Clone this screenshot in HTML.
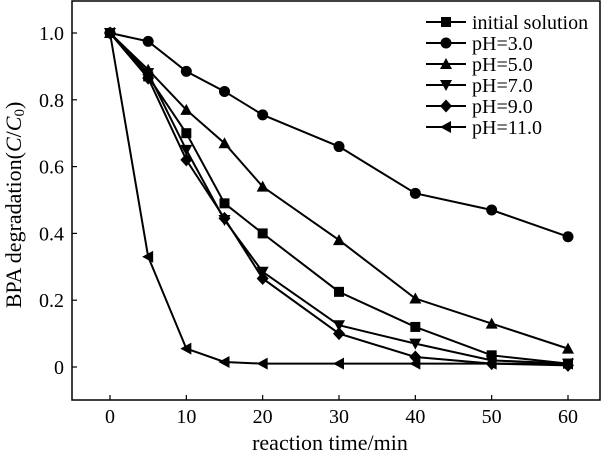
<!DOCTYPE html>
<html><head><meta charset="utf-8"><style>
body{margin:0;background:#fff}
svg text{font-family:"Liberation Serif",serif;fill:#000}
</style></head><body>
<svg width="608" height="458" viewBox="0 0 608 458">
<g id="plot"></g>
</svg>
<script>
const times=[0,5,10,15,20,30,40,50,60];
const initialVals=[1,0.87,0.70,0.49,0.40,0.225,0.12,0.035,0.01];
const ph3Vals=[1,0.975,0.885,0.825,0.755,0.66,0.52,0.47,0.39];
const ph5Vals=[1,0.89,0.77,0.67,0.54,0.38,0.205,0.13,0.055];
const ph7Vals=[1,0.88,0.65,0.44,0.285,0.125,0.07,0.02,0.01];
const ph9Vals=[1,0.865,0.62,0.445,0.265,0.10,0.03,0.01,0.005];
const ph11Vals=[1,0.33,0.055,0.015,0.01,0.01,0.01,0.01,0.01];
const seriesNames=["initial solution","pH=3.0","pH=5.0","pH=7.0","pH=9.0","pH=11.0"];
const xTicks=[0,10,20,30,40,50,60];
const yTicks=[0,0.2,0.4,0.6,0.8,1.0];
const yTickLabels=["0","0.2","0.4","0.6","0.8","1.0"];

const NS="http://www.w3.org/2000/svg";
const g=document.getElementById('plot');
const X=v=>110+(568-110)*v/60;
const Y=v=>367-(367-33)*v;
function mk(t,a,p){const e=document.createElementNS(NS,t);for(const k in a)e.setAttribute(k,a[k]);(p||g).appendChild(e);return e;}
const frame=mk('rect',{x:72,y:1,width:528,height:399,fill:'none',stroke:'#000','stroke-width':1.5});


xTicks.forEach(t=>{
  const l=mk('line',{x1:X(t),x2:X(t),y1:400,y2:395,stroke:'#000','stroke-width':1.2});
  
  
  const tx=mk('text',{x:X(t),y:423,'text-anchor':'middle','font-size':20});tx.textContent=t;
  
  
});
yTicks.forEach((t,i)=>{
  const l=mk('line',{x1:72,x2:77,y1:Y(t),y2:Y(t),stroke:'#000','stroke-width':1.2});
  
  
  const tx=mk('text',{x:64,y:Y(t)+7,'text-anchor':'end','font-size':20});tx.textContent=yTickLabels[i];
  
  
});
const xt=mk('text',{x:330,y:450,'text-anchor':'middle','font-size':22});xt.textContent='reaction time/min';


const yt=mk('text',{x:0,y:0,'text-anchor':'middle','font-size':22,transform:'translate(21,205) rotate(-90)'});
yt.innerHTML='BPA degradation(<tspan font-style="italic">C</tspan>/<tspan font-style="italic">C</tspan><tspan font-size="15" dy="3">0</tspan><tspan dy="-3">)</tspan>';



function marker(type,x,y,parent){
  const s=5;let e;
  if(type==='square')e=mk('rect',{x:x-s,y:y-s,width:2*s,height:2*s},parent);
  else if(type==='circle')e=mk('circle',{cx:x,cy:y,r:s+0.5},parent);
  else if(type==='up')e=mk('polygon',{points:`${x},${y-6} ${x-6},${y+5} ${x+6},${y+5}`},parent);
  else if(type==='down')e=mk('polygon',{points:`${x},${y+6} ${x-6},${y-5} ${x+6},${y-5}`},parent);
  else if(type==='diamond')e=mk('polygon',{points:`${x},${y-6.5} ${x+6},${y} ${x},${y+6.5} ${x-6},${y}`},parent);
  else e=mk('polygon',{points:`${x-6},${y} ${x+5},${y-6} ${x+5},${y+6}`},parent);
  e.setAttribute('fill','#000');
  return e;
}
const all=[initialVals,ph3Vals,ph5Vals,ph7Vals,ph9Vals,ph11Vals];
const types=['square','circle','up','down','diamond','left'];
all.forEach((vals,si)=>{
  const sg=mk('g',{});
  
  
  mk('polyline',{points:times.map((t,i)=>X(t)+','+Y(vals[i])).join(' '),fill:'none',stroke:'#000','stroke-width':2},sg);
  times.forEach((t,i)=>{const m=marker(types[si],X(t),Y(vals[i]),sg);
    
    });
});
seriesNames.forEach((n,i)=>{
  const y=22+i*21;
  const lg=mk('g',{});
  
  
  mk('line',{x1:426,x2:466,y1:y,y2:y,stroke:'#000','stroke-width':2},lg);
  marker(types[i],446,y,lg);
  const tx=mk('text',{x:472,y:y+7,'font-size':20},lg);tx.textContent=n;
});
</script>
</body></html>
